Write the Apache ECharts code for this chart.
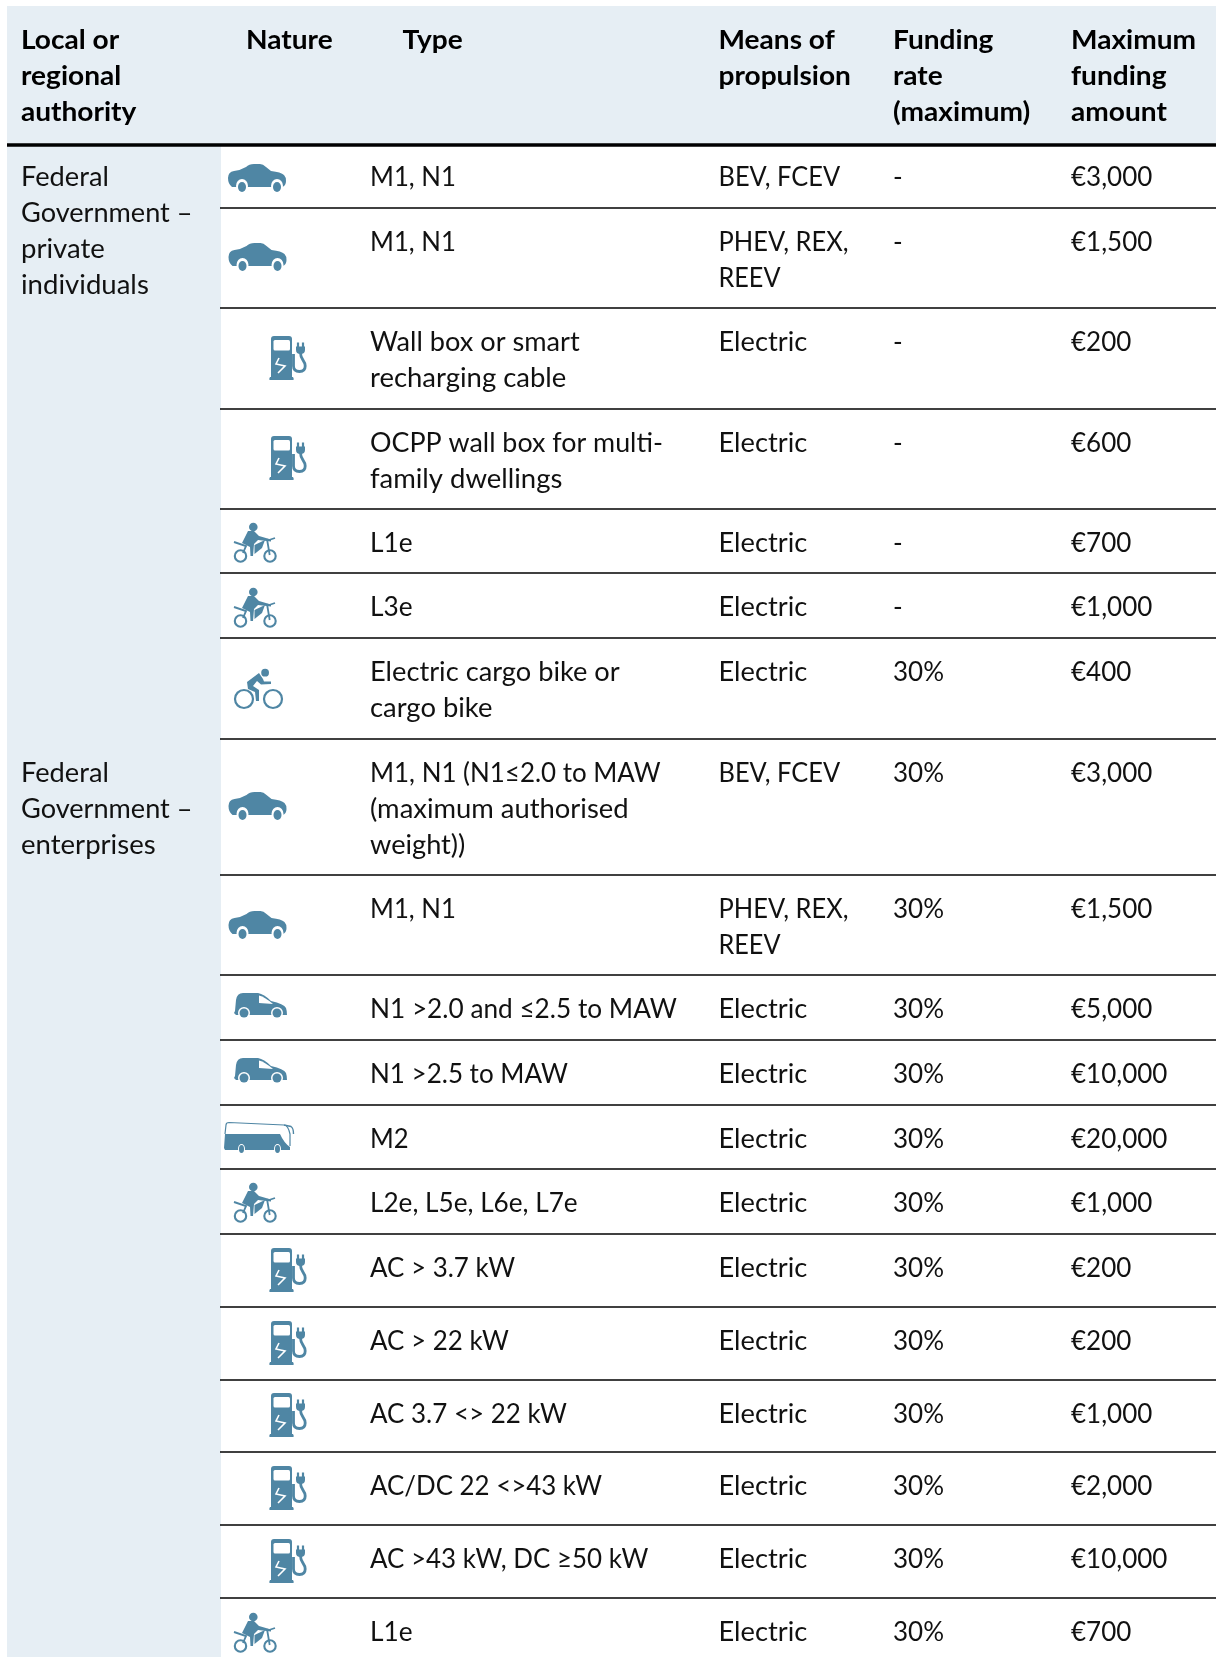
<!DOCTYPE html>
<html>
<head>
<meta charset="utf-8">
<title>Funding table</title>
<script src="https://cdn.jsdelivr.net/npm/echarts@6/dist/echarts.min.js"></script>
<style>
  html, body { margin: 0; padding: 0; background: #fff; }
  #main { width: 1216px; height: 1657px; }
</style>
</head>
<body>
<div id="main"></div>
<script>
// table content
const headers = ['Local or\nregional\nauthority', 'Nature', 'Type', 'Means of\npropulsion', 'Funding\nrate\n(maximum)', 'Maximum\nfunding\namount'];
const authorities = ['Federal\nGovernment \u2013\nprivate\nindividuals', 'Federal\nGovernment \u2013\nenterprises'];
const authorityRows = [0, 7];
const natures = ['car', 'car', 'pump', 'pump', 'moto', 'moto', 'bike', 'car', 'car', 'van', 'van', 'bus', 'moto', 'pump', 'pump', 'pump', 'pump', 'pump', 'moto'];
const types = ['M1, N1', 'M1, N1', 'Wall box or smart\nrecharging cable', 'OCPP wall box for multi-\nfamily dwellings', 'L1e', 'L3e', 'Electric cargo bike or\ncargo bike', 'M1, N1 (N1\u22642.0 to MAW\n(maximum authorised\nweight))', 'M1, N1', 'N1 >2.0 and \u22642.5 to MAW', 'N1 >2.5 to MAW', 'M2', 'L2e, L5e, L6e, L7e', 'AC > 3.7 kW', 'AC > 22 kW', 'AC 3.7 <> 22 kW', 'AC/DC 22 <>43 kW', 'AC >43 kW, DC \u226550 kW', 'L1e'];
const propulsion = ['BEV, FCEV', 'PHEV, REX,\nREEV', 'Electric', 'Electric', 'Electric', 'Electric', 'Electric', 'BEV, FCEV', 'PHEV, REX,\nREEV', 'Electric', 'Electric', 'Electric', 'Electric', 'Electric', 'Electric', 'Electric', 'Electric', 'Electric', 'Electric'];
const rates = ['-', '-', '-', '-', '-', '-', '30%', '30%', '30%', '30%', '30%', '30%', '30%', '30%', '30%', '30%', '30%', '30%', '30%'];
const amounts = ['\u20ac3,000', '\u20ac1,500', '\u20ac200', '\u20ac600', '\u20ac700', '\u20ac1,000', '\u20ac400', '\u20ac3,000', '\u20ac1,500', '\u20ac5,000', '\u20ac10,000', '\u20ac20,000', '\u20ac1,000', '\u20ac200', '\u20ac200', '\u20ac1,000', '\u20ac2,000', '\u20ac10,000', '\u20ac700'];

// layout, in page pixels
const rowLines = [143, 208, 308, 409, 509, 573, 638, 739, 875, 975, 1040, 1105, 1169, 1234, 1307, 1380, 1452, 1525, 1598, 1700];
const colX = [21, 246, 370, 718.5, 893, 1071];
const headerX = [21, 246, 402.5, 718.5, 893, 1071];
const iconPos = [[228, 164], [228.5, 243], [269, 336], [269, 436], [234, 523], [234, 588], [234, 669], [228.5, 792], [228.5, 911], [234, 993], [234, 1058], [224, 1122], [234, 1183], [269, 1248], [269, 1321], [269, 1393], [269, 1466], [269, 1539], [234, 1613]];

const BLUE = '#4f86a4';
const PANEL = '#e6eef4';
const FONT = 'Lato, sans-serif';
const LINE_H = 36;
const TEXT_SIZE = 26;
const BOLD_SIZE = 27;
const TEXT_SHIFT = 2;

// [path, fill, stroke, strokeWidth]
const carWheels = [
  ['M8 22a6 7 0 1 0 12 0a6 7 0 1 0 -12 0Z', '#fff'],
  ['M43 22a6 7 0 1 0 12 0a6 7 0 1 0 -12 0Z', '#fff'],
  ['M10 23a4 5 0 1 0 8 0a4 5 0 1 0 -8 0Z', BLUE],
  ['M45 23a4 5 0 1 0 8 0a4 5 0 1 0 -8 0Z', BLUE]
];
const pumpParts = [
  ['M2 44L2 3Q2 0 5 0L20 0Q23 0 23 3L23 44Z', BLUE],
  ['M1 41L24 41Q25.5 44 24 44L1 44Q-0.5 44 1 41Z', BLUE],
  ['M6 4L19.5 4Q21 4 21 5.5L21 13Q21 14.5 19.5 14.5L6 14.5Q4.5 14.5 4.5 13L4.5 5.5Q4.5 4 6 4Z', '#fff'],
  ['M10 22L7 28L16 30L9 37', 'none', '#fff', 1.6],
  ['M29 6.5L29 11M34 6.5L34 11', 'none', BLUE, 2.2],
  ['M27 10.5L36 10.5L36 14Q36 18 31.5 18Q27 18 27 14Z', BLUE],
  ['M31.5 17C31.5 24 36.2 24 36.2 30Q36.2 35.5 30.5 35.5Q24.5 35.5 24.5 30L24.5 18', 'none', BLUE, 2.8]
];
const motoParts = [
  ['M12.2 33a5.7 5.7 0 1 0 -11.4 0a5.7 5.7 0 1 0 11.4 0Z', 'none', BLUE, 2.1],
  ['M41.7 33a5.7 5.7 0 1 0 -11.4 0a5.7 5.7 0 1 0 11.4 0Z', 'none', BLUE, 2.1],
  ['M15 4a4.3 4.3 0 1 1 8.6 0a4.3 4.3 0 1 1 -8.6 0Z', BLUE],
  ['M14 8L20 8L25 13L37 16.5L37 18.5L24 17L20 21L19 33L16.5 33L16 24L8 20Z', BLUE],
  ['M20.5 31L20.5 22L31 17L28 25Z', BLUE],
  ['M0 19L12 23L9 30', 'none', BLUE, 1.9],
  ['M33 16L35.7 32M35 17L41 15', 'none', BLUE, 1.8]
];
const bikeParts = [
  ['M19 30a9 9 0 1 0 -18 0a9 9 0 1 0 18 0Z', 'none', BLUE, 2.2],
  ['M48 30a9 9 0 1 0 -18 0a9 9 0 1 0 18 0Z', 'none', BLUE, 2.2],
  ['M27.2 3.7a3.9 3.9 0 1 1 7.8 0a3.9 3.9 0 1 1 -7.8 0Z', BLUE],
  ['M13 13L25 4L29 10L30 12.5L37 12.5L37 15L27 15.5L23 12L19 17L25 21L25 32L22 32L21 23L14 20Z', BLUE]
];
const iconParts = {
  car: [['M0 14Q0 8 6 7Q13 6 18 3Q21 0 26 0L32 0Q35 0 38 3L43 7Q53 8 56 11Q58 13 58 17Q58 22 54 23L4 23Q0 20 0 14Z', BLUE]].concat(carWheels),
  van: [
    ['M0 20L1 18L2 7Q3 0 9 0L24 0Q30 1 37 8Q50 11 52 15Q53 18 53 22L2 22Z', BLUE],
    ['M25 2.5Q31 4 39 11L25 10Z', '#fff'],
    ['M4 20a6 6 0 1 0 12 0a6 6 0 1 0 -12 0Z', '#fff'],
    ['M37 20a6 6 0 1 0 12 0a6 6 0 1 0 -12 0Z', '#fff'],
    ['M5.5 20a4.5 4.5 0 1 0 9 0a4.5 4.5 0 1 0 -9 0Z', BLUE],
    ['M38.5 20a4.5 4.5 0 1 0 9 0a4.5 4.5 0 1 0 -9 0Z', BLUE]
  ],
  bus: [
    ['M1 12L2 3Q2 0.5 5 0.5L60 3Q64 3 66 12L66 24', 'none', BLUE, 1.2],
    ['M60 3L67 4.5Q69.5 6 69.5 12', 'none', BLUE, 1.4],
    ['M0 26L1 12L56 12Q60 21 66 25L66 28L1 28Z', BLUE],
    ['M14 27a3.5 5 0 1 0 7 0a3.5 5 0 1 0 -7 0Z', '#fff'],
    ['M50 27a3.5 5 0 1 0 7 0a3.5 5 0 1 0 -7 0Z', '#fff'],
    ['M15 27a2.5 4 0 1 0 5 0a2.5 4 0 1 0 -5 0Z', BLUE],
    ['M51 27a2.5 4 0 1 0 5 0a2.5 4 0 1 0 -5 0Z', BLUE]
  ],
  moto: motoParts,
  bike: bikeParts,
  pump: pumpParts
};

// Lato runs narrow on lowercase and wide on capitals against the source face
function lineStretch(line, bold) {
  if (bold) {
    return 1.04;
  }
  let total = 0;
  for (let i = 0; i < line.length; i++) {
    const c = line[i];
    total += /[a-z]/.test(c) ? 1.06 : (/[A-Z]/.test(c) ? 0.97 : 1);
  }
  return total / line.length;
}

function makeText(text, x, centerY, bold) {
  return {
    type: 'group',
    children: text.split('\n').map(function (line, n) {
      return {
        type: 'text',
        x: x,
        y: centerY + TEXT_SHIFT - LINE_H / 2 + n * LINE_H,
        scaleX: lineStretch(line, bold),
        style: {
          text: line,
          fill: bold ? '#000' : '#111',
          font: (bold ? 'bold ' + BOLD_SIZE : TEXT_SIZE) + 'px ' + FONT,
          lineHeight: LINE_H,
          align: 'left',
          verticalAlign: 'top'
        }
      };
    })
  };
}

function makeIcon(name, pos) {
  return {
    type: 'group',
    x: pos[0],
    y: pos[1],
    children: iconParts[name].map(function (p) {
      return {
        type: 'path',
        shape: { pathData: p[0] },
        style: { fill: p[1], stroke: p[2] || null, lineWidth: p[3] || 0 }
      };
    })
  };
}

// header band, authority panel and heavy rule
function renderFrame(params, api) {
  const tl = api.coord([7, 6]);
  const ruleY = api.coord([0, 145])[1];
  const panelBottom = api.coord([0, 1657])[1];
  const right = api.coord([1216, 0])[0];
  const panelRight = api.coord([221, 0])[0];
  return {
    type: 'group',
    children: [
      { type: 'rect', shape: { x: tl[0], y: tl[1], width: right - tl[0], height: ruleY - tl[1] }, style: { fill: PANEL } },
      { type: 'rect', shape: { x: tl[0], y: ruleY, width: panelRight - tl[0], height: panelBottom - ruleY }, style: { fill: PANEL } },
      { type: 'line', shape: { x1: tl[0], y1: ruleY, x2: right, y2: ruleY }, style: { stroke: '#000', lineWidth: 3.6 } }
    ].concat(headers.map(function (h, i) {
      const p = api.coord([headerX[i], 38.5]);
      return makeText(h, p[0], p[1], true);
    })).concat(authorities.map(function (a, i) {
      const top = rowLines[authorityRows[i]];
      const p = api.coord([colX[0], top + 33]);
      return makeText(a, p[0], p[1], false);
    }))
  };
}

function renderRow(params, api) {
  const i = api.value(0);
  const top = api.value(1);
  const bottom = api.value(2);
  const textY = api.coord([0, top + 33])[1];
  const lineY = api.coord([0, bottom])[1];
  const children = [
    makeIcon(natures[i], api.coord(iconPos[i])),
    makeText(types[i], api.coord([colX[2], 0])[0], textY),
    makeText(propulsion[i], api.coord([colX[3], 0])[0], textY),
    makeText(rates[i], api.coord([colX[4], 0])[0], textY),
    makeText(amounts[i], api.coord([colX[5], 0])[0], textY)
  ];
  children.push({
    type: 'line',
    shape: { x1: api.coord([220, 0])[0], y1: lineY, x2: api.coord([1216, 0])[0], y2: lineY },
    style: { stroke: '#000', lineWidth: 1.4 }
  });
  return { type: 'group', children: children };
}

const chart = echarts.init(document.getElementById('main'));
chart.setOption({
  animation: false,
  grid: { left: 0, right: 0, top: 0, bottom: 0 },
  xAxis: { type: 'value', min: 0, max: 1216, show: false },
  yAxis: { type: 'value', min: 0, max: 1657, inverse: true, show: false },
  series: [
    { type: 'custom', silent: true, clip: false, renderItem: renderFrame, data: [[0, 0]], z: 1 },
    {
      type: 'custom',
      silent: true,
      clip: true,
      renderItem: renderRow,
      data: types.map(function (t, i) { return [i, rowLines[i], rowLines[i + 1]]; }),
      encode: { x: 0, y: 1 },
      z: 2
    }
  ]
});
</script>
</body>
</html>
